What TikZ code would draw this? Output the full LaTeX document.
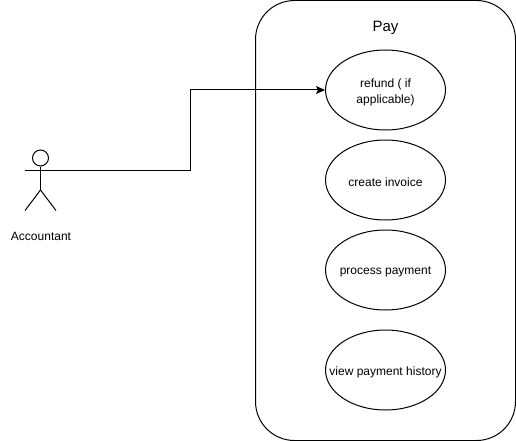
\documentclass[tikz,border=0pt]{standalone}
\usepackage{fontspec}
\setmainfont{Liberation Sans}
\usetikzlibrary{arrows.meta}
\usetikzlibrary{shapes.geometric}

\begin{document}
\begin{tikzpicture}[x=1pt, y=-1pt]
    \tikzset{usecase/.style = {shape=ellipse, draw, line width=1pt, minimum width=120pt, minimum height=80pt, inner sep=0pt}}
    \tikzset{casetext/.style = {align=center, inner sep=0pt, yshift=-2pt, font=\fontsize{12}{16}\selectfont}}
    \tikzset{limb/.style = {draw, line width=1pt}}
    \useasboundingbox (0,0) rectangle (516,441);

    % system box
    \draw[line width=1pt, rounded corners=39pt] (255.5,0.5) rectangle (515.5,440.5);
    \node[font=\fontsize{15}{19}\selectfont] (pay) at (385.5,28) {Pay};

    % use cases
    \node[usecase, label={[casetext]center:refund ( if\\applicable)}] (refund) at (385.5,90) {};
    \node[usecase, label={[casetext]center:create invoice}] (invoice) at (385.5,180) {};
    \node[usecase, label={[casetext]center:process payment}] (payment) at (385.5,270) {};
    \node[usecase, label={[casetext]center:view payment history}] (history) at (385.5,370) {};

    % actor
    \node[shape=circle, draw, line width=1pt, minimum size=16pt, inner sep=0pt] (head) at (40.5,158) {};
    \coordinate (hip) at (40.5,190);
    \coordinate (armL) at (25,170);
    \coordinate (armR) at (55,170);
    \coordinate (footL) at (25,210.5);
    \coordinate (footR) at (56,210.5);
    \draw[limb] (head) -- (hip);
    \draw[limb] (armL) -- (armR);
    \draw[limb] (footL) -- (hip) -- (footR);
    \node[font=\fontsize{12}{15}\selectfont] (accountant) at (41,236) {Accountant};

    % edges
    \coordinate (bend) at (190.5,130);
    \draw[-{Stealth[length=9pt, width=8pt, inset=2pt]}, line width=1pt] (armR) -| (bend) |- (refund);
\end{tikzpicture}
\end{document}
